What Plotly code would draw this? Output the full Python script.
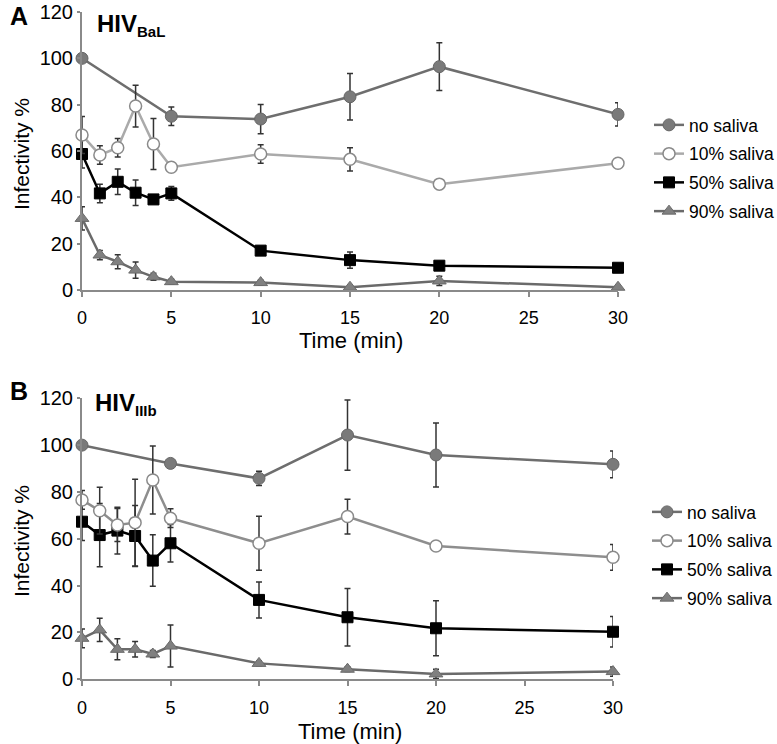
import plotly.graph_objects as go

W, H = 777, 744

# ---------------- data ----------------
times_all = [0, 1, 2, 3, 4, 5, 10, 15, 20, 30]
times_no = [0, 5, 10, 15, 20, 30]
series_names = ["no saliva", "10% saliva", "50% saliva", "90% saliva"]
x_ticks = [0, 5, 10, 15, 20, 25, 30]
y_ticks = [0, 20, 40, 60, 80, 100, 120]

# Panel A (HIV BaL)
A_no = [100, 75.0, 73.8, 83.4, 96.4, 75.8]
A_no_err = [0, 4, 6.3, 10, 10.3, 5]
A_10 = [66.9, 58.3, 61.4, 79.4, 63.0, 53.0, 58.7, 56.4, 45.7, 54.7]
A_10_err = [8, 4, 4, 9, 11, 1, 4, 5, 0, 0]
A_50 = [58.7, 41.7, 46.7, 42.0, 39.1, 41.7, 17.0, 12.9, 10.5, 9.6]
A_50_err = [6, 4, 5.5, 5.5, 1.5, 3, 1, 3.5, 1, 1]
A_90 = [30.9, 15.1, 12.2, 8.6, 5.7, 3.6, 3.2, 1.2, 3.9, 1.2]
A_90_err = [5, 2, 3, 3.5, 1.5, 1, 1, 1, 2, 1]

# Panel B (HIV IIIb)
B_no = [100, 92.2, 85.8, 104.3, 95.8, 91.8]
B_no_err = [0, 1, 3, 15, 13.7, 5.7]
B_10 = [76.6, 72.0, 65.9, 66.9, 85.1, 68.8, 58.1, 69.5, 56.9, 52.1]
B_10_err = [4, 10, 7, 18.5, 14.5, 4, 11.5, 7.4, 0, 5.5]
B_50 = [67.3, 61.6, 63.5, 61.2, 50.7, 58.1, 33.9, 26.5, 21.8, 20.3]
B_50_err = [8, 13.5, 10, 13, 11, 8, 7.7, 12.3, 11.7, 6.5]
B_90 = [17.5, 21.1, 12.8, 12.8, 10.8, 14.2, 6.8, 4.3, 2.3, 3.3]
B_90_err = [4, 5, 4.5, 3.3, 1.5, 9, 1, 1, 2, 2]

FONT = "Liberation Sans, Arial, Helvetica, sans-serif"


def px(x):
    return x / W


def py(y):
    return 1 - y / H


styles = [
    dict(line=dict(color="#6e6e6e", width=2.5),
         marker=dict(symbol="circle", size=12, color="#7a7a7a", line=dict(color="#666666", width=1))),
    None,  # set per panel
    dict(line=dict(color="#000000", width=2.5),
         marker=dict(symbol="square", size=11, color="#000000", line=dict(color="#000000", width=1))),
    dict(line=dict(color="#6a6a6a", width=2.5),
         marker=dict(symbol="triangle-up", size=12, color="#808080", line=dict(color="#6a6a6a", width=1))),
]


def style10(col):
    return dict(line=dict(color=col, width=2.5),
                marker=dict(symbol="circle", size=12, color="#ffffff", line=dict(color="#8a8a8a", width=1.5)))


fig = go.Figure()

panels = [
    ("x", "y", "legend", "#aaaaaa",
     [(times_no, A_no, A_no_err), (times_all, A_10, A_10_err),
      (times_all, A_50, A_50_err), (times_all, A_90, A_90_err)]),
    ("x2", "y2", "legend2", "#8e8e8e",
     [(times_no, B_no, B_no_err), (times_all, B_10, B_10_err),
      (times_all, B_50, B_50_err), (times_all, B_90, B_90_err)]),
]

for pi, (xa, ya, leg, col10, data) in enumerate(panels):
    for si in [3, 2, 0, 1]:
        xs, ys, es = data[si]
        st = styles[si] if si != 1 else style10(col10)
        fig.add_trace(go.Scatter(
            x=xs, y=ys, mode="lines+markers", name=series_names[si],
            xaxis=xa, yaxis=ya, legend=leg,
            legendgroup=f"p{pi}s{si}", legendrank=si + 1,
            line=st["line"], marker=st["marker"],
            error_y=dict(type="data", array=es, visible=True,
                         color="#333333", thickness=1.5, width=3),
            cliponaxis=False,
        ))

axis_common = dict(showgrid=False, zeroline=False, showline=True, automargin=False,
                   linecolor="#8a8a8a", linewidth=2,
                   ticks="outside", tickwidth=1.5, tickcolor="#8a8a8a")
xfont = dict(family=FONT, size=18, color="#000000")
yfont = dict(family=FONT, size=20, color="#000000")

fig.update_layout(
    template="none",
    width=W, height=H,
    margin=dict(l=0, r=0, t=0, b=0, autoexpand=False),
    paper_bgcolor="white", plot_bgcolor="white",
    showlegend=True,
    xaxis=dict(domain=[px(82), px(618)], range=[0, 30], tickvals=x_ticks, tickfont=xfont,
               anchor="y", ticklen=5, ticklabelstandoff=5, **axis_common),
    yaxis=dict(domain=[py(290), py(12)], range=[0, 120], tickvals=y_ticks, tickfont=yfont,
               anchor="x", ticklen=3, **axis_common),
    xaxis2=dict(domain=[px(82), px(613)], range=[0, 30], tickvals=x_ticks, tickfont=xfont,
                anchor="y2", ticklen=5, ticklabelstandoff=6, **axis_common),
    yaxis2=dict(domain=[py(679.3), py(398.3)], range=[0, 120], tickvals=y_ticks, tickfont=yfont,
                anchor="x2", ticklen=3, **axis_common),
    legend=dict(x=px(649), y=py(107), xanchor="left", yanchor="top",
                font=dict(family=FONT, size=17.5, color="#000000"),
                traceorder="grouped", tracegroupgap=3, bgcolor="rgba(0,0,0,0)", borderwidth=0),
    legend2=dict(x=px(647), y=py(494), xanchor="left", yanchor="top",
                 font=dict(family=FONT, size=17.5, color="#000000"),
                 traceorder="grouped", tracegroupgap=3, bgcolor="rgba(0,0,0,0)", borderwidth=0),
)

ann_font = dict(family=FONT, size=21, color="#000000")
annotations = [
    dict(text="<b>A</b>", x=px(19), y=py(16), font=dict(family=FONT, size=25, color="#000")),
    dict(text="<b>B</b>", x=px(19), y=py(391), font=dict(family=FONT, size=25, color="#000")),
    dict(text="<b>HIV<sub><span style='font-size:15px'>BaL</span></sub></b>", x=px(95), y=py(8),
         xanchor="left", yanchor="top", font=dict(family=FONT, size=24, color="#000")),
    dict(text="<b>HIV<sub><span style='font-size:15px'>IIIb</span></sub></b>", x=px(93), y=py(387),
         xanchor="left", yanchor="top", font=dict(family=FONT, size=24, color="#000")),
    dict(text="Time (min)", x=px(351), y=py(341), font=dict(family=FONT, size=22, color="#000")),
    dict(text="Time (min)", x=px(350), y=py(731), font=dict(family=FONT, size=22, color="#000")),
    dict(text="Infectivity %", x=px(21), y=py(154), textangle=-90, font=ann_font),
    dict(text="Infectivity %", x=px(21), y=py(541), textangle=-90, font=ann_font),
]
for a in annotations:
    a.setdefault("xanchor", "center")
    a.setdefault("yanchor", "middle")
    a.update(xref="paper", yref="paper", showarrow=False)
fig.update_layout(annotations=annotations)

fig.write_html("out.html",
               config={"displayModeBar": False},
               post_script="document.body.style.margin='0';document.body.style.padding='0';")
